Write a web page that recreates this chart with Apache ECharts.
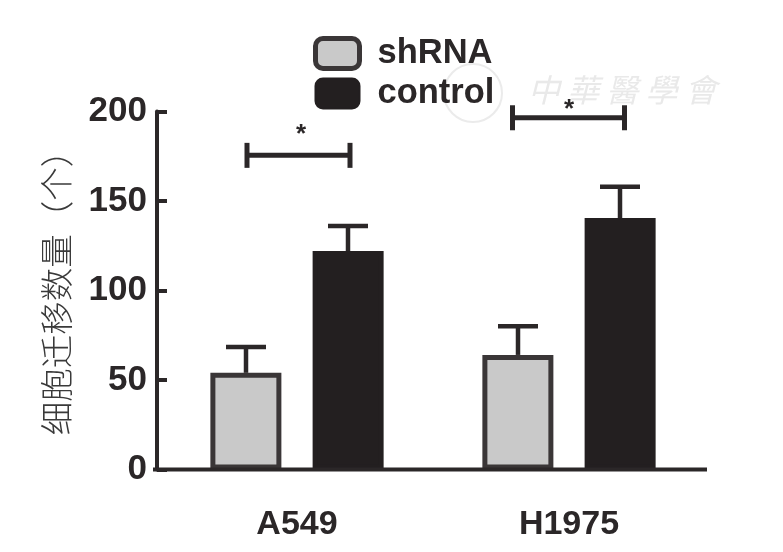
<!DOCTYPE html>
<html lang="en">
<head>
    <meta charset="UTF-8">
    <title>细胞迁移数量</title>
    <script src="https://cdn.jsdelivr.net/npm/echarts@6/dist/echarts.min.js"></script>
    <style>
        html, body { margin: 0; padding: 0; background: #fff; }
        #chart { width: 783px; height: 552px; }
    </style>
</head>
<body>
    <div id="chart"></div>

    <script>
        const categories = ['A549', 'H1975'];
        const yTicks = [0, 50, 100, 150, 200];
        const shRNA = [54, 64];
        const control = [122, 140.5];
        // top of the error bars
        const shRNAErr = [68.5, 80];
        const controlErr = [136, 158];
        // height of the significance brackets
        const sigHeight = [175.5, 196.5];
        const sigLabel = ['*', '*'];

        const dark = '#2b2728';
        const font = '"Liberation Sans", Arial, sans-serif';
        const barOffset = 51;

        function errorBar(offset) {
            return function (params, api) {
                const top = api.coord([api.value(0), api.value(1)]);
                const base = api.coord([api.value(0), api.value(2)]);
                const x = top[0] + offset;
                const style = { stroke: dark, lineWidth: 4.5, fill: null };
                return {
                    type: 'group',
                    children: [
                        { type: 'line', shape: { x1: x, y1: top[1], x2: x, y2: base[1] }, style: style },
                        { type: 'line', shape: { x1: x - 20, y1: top[1], x2: x + 20, y2: top[1] }, style: style }
                    ]
                };
            };
        }

        function bracket(params, api) {
            const i = params.dataIndex;
            const half = [51.5, 56][i];
            const shift = [1.5, -0.5][i];
            const p = api.coord([api.value(0), api.value(1)]);
            const x1 = p[0] + shift - half;
            const x2 = p[0] + shift + half;
            const style = { stroke: dark, lineWidth: 5, fill: null };
            return {
                type: 'group',
                children: [
                    { type: 'line', shape: { x1: x1, y1: p[1], x2: x2, y2: p[1] }, style: style },
                    { type: 'line', shape: { x1: x1, y1: p[1] - 12.5, x2: x1, y2: p[1] + 12.5 }, style: style },
                    { type: 'line', shape: { x1: x2, y1: p[1] - 12.5, x2: x2, y2: p[1] + 12.5 }, style: style },
                    {
                        type: 'text',
                        x: p[0] + [4, 0][i],
                        y: p[1] + [-8, 5][i],
                        style: {
                            text: sigLabel[i],
                            fill: dark,
                            font: 'bold 26px ' + font,
                            textAlign: 'center',
                            textVerticalAlign: 'bottom'
                        }
                    }
                ]
            };
        }

        const myecharts = echarts.init(document.getElementById('chart'));

        const option = {
            animation: false,
            backgroundColor: '#fff',
            grid: { left: 161, top: 111.5, width: 544, height: 358 },
            legend: {
                data: [
                    { name: 'shRNA', itemStyle: { borderWidth: 5 } },
                    { name: 'control' }
                ],
                orient: 'vertical',
                left: 308,
                top: 31,
                itemWidth: 44,
                itemHeight: 30,
                itemGap: 5,
                icon: 'roundRect',
                textStyle: { fontFamily: font, fontWeight: 'bold', fontSize: 34.5, color: dark, padding: [0, 0, 0, 13] }
            },
            xAxis: {
                type: 'category',
                data: categories,
                axisLine: { show: false },
                axisTick: { show: false },
                axisLabel: { margin: 38, fontFamily: font, fontWeight: 'bold', fontSize: 34, color: dark }
            },
            yAxis: {
                type: 'value',
                min: 0,
                max: 200,
                interval: 50,
                offset: 4,
                name: '细胞迁移数量（个）',
                nameLocation: 'middle',
                nameRotate: 90,
                nameGap: 84,
                nameTextStyle: { fontFamily: '"Noto Sans CJK SC"', fontWeight: 300, fontSize: 33.5, color: '#3a3a3a', padding: [0, 0, 0, 12] },
                splitLine: { show: false },
                axisLine: { show: true, onZero: false, lineStyle: { color: dark, width: 4 } },
                axisTick: { show: true, inside: true, length: 10, lineStyle: { color: dark, width: 4 } },
                axisLabel: {
                    margin: 10,
                    padding: [6, 0, 0, 0],
                    fontFamily: font,
                    fontWeight: 'bold',
                    fontSize: 35,
                    color: dark,
                    customValues: yTicks
                }
            },
            series: [
                {
                    type: 'custom',
                    renderItem: errorBar(-barOffset),
                    data: categories.map((c, i) => [i, shRNAErr[i], shRNA[i]]),
                    silent: true,
                    z: 1
                },
                {
                    type: 'custom',
                    renderItem: errorBar(barOffset),
                    data: categories.map((c, i) => [i, controlErr[i], control[i]]),
                    silent: true,
                    z: 1
                },
                {
                    name: 'shRNA',
                    type: 'bar',
                    data: shRNA,
                    barWidth: 71,
                    barGap: '44%',
                    itemStyle: { color: '#c9c9c9', borderColor: '#3a3637', borderWidth: 5 },
                    z: 2
                },
                {
                    name: 'control',
                    type: 'bar',
                    data: control,
                    barWidth: 71,
                    itemStyle: { color: '#231f20', borderColor: '#231f20', borderWidth: 5 },
                    z: 2
                },
                {
                    type: 'custom',
                    renderItem: bracket,
                    data: categories.map((c, i) => [i, sigHeight[i]]),
                    silent: true,
                    clip: false,
                    z: 3
                }
            ],
            graphic: [
                // baseline runs past the plot on both sides
                { type: 'rect', left: 153, top: 467.5, shape: { width: 554, height: 4 }, style: { fill: dark }, z: 5 },
                // faint publisher watermark
                { type: 'circle', shape: { cx: 473, cy: 93, r: 29 }, style: { fill: null, stroke: '#ebebeb', lineWidth: 2 }, z: 0 },
                {
                    type: 'text',
                    left: 528,
                    top: 74,
                    style: {
                        text: '中 華 醫 學 會',
                        fill: '#e9e9e9',
                        font: 'italic 32px "Noto Sans CJK TC"'
                    },
                    z: 0
                }
            ]
        };

        myecharts.setOption(option);
    </script>
</body>
</html>
